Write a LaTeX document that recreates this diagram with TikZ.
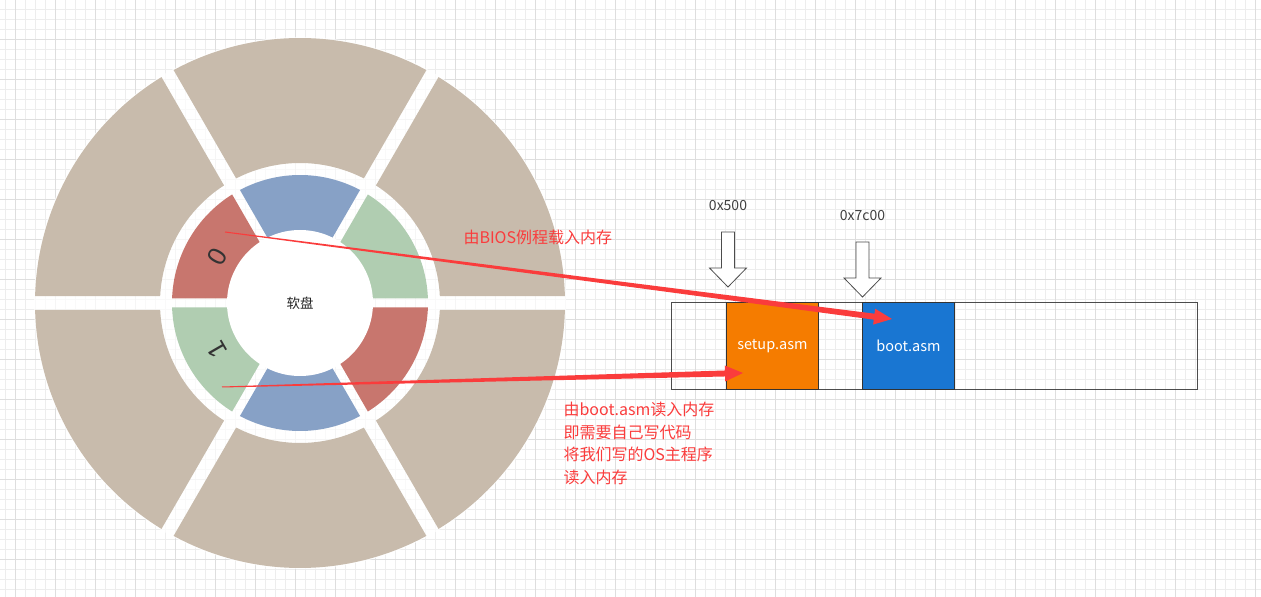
\documentclass[tikz,border=0pt]{standalone}
\usepackage{fontspec}
\usepackage{tikz}
\usetikzlibrary{calc,positioning}
\newfontfamily\cjk{Noto Sans CJK SC}
\newfontfamily\digitfont{Liberation Sans}
\definecolor{gridminor}{RGB}{237,237,237}
\definecolor{gridmajor}{RGB}{222,222,222}
\definecolor{platebeige}{RGB}{200,187,172}
\definecolor{trackred}{RGB}{200,118,110}
\definecolor{trackblue}{RGB}{135,161,198}
\definecolor{trackgreen}{RGB}{176,205,177}
\definecolor{memorange}{RGB}{245,124,0}
\definecolor{memblue}{RGB}{25,118,210}
\definecolor{notered}{RGB}{250,60,60}

\begin{document}
\begin{tikzpicture}[x=1pt,y=1pt,every node/.style={font=\cjk},
 memslot/.style={draw=black!80,line width=.8pt,minimum height=87pt,minimum width=92pt,
   text=white,font=\cjk\fontsize{14.5}{16}\selectfont},
 addr/.style={text=black!75,font=\cjk\fontsize{14}{16}\selectfont},
 note/.style={text=notered,font=\cjk\fontsize{16}{22.5}\selectfont,align=left},
 digit/.style={text=black!80,font=\digitfont\fontsize{26}{28}\selectfont},
 hollow/.style={draw=black!70,fill=white,line width=.8pt},
 redarrow/.style={fill=notered}]
\useasboundingbox (0,0) rectangle (1261,597);
% grid
\foreach \x in {5,15,...,1255}
  {\draw[gridminor,line width=1pt] (\x,0) -- (\x,597);}
\foreach \y in {7,17,...,597}
  {\draw[gridminor,line width=1pt] (0,\y) -- (1261,\y);}
\foreach \x in {15,55,...,1255}
  {\draw[gridmajor,line width=1pt] (\x,0) -- (\x,597);}
\foreach \y in {597,557,...,0}
  {\draw[gridmajor,line width=1pt] (0,\y) -- (1261,\y);}
% floppy disk
\begin{scope}[shift={(300,294)}]
\fill[white,opacity=.7] (0,0) circle[radius=266];
\foreach \a in {0,60,...,300}
  {\fill[platebeige] ({\a+asin(7/265)}:265)
     arc[start angle={\a+asin(7/265)},end angle={\a+60-asin(7/265)},radius=265]
     -- ({\a+60-asin(7/140)}:140)
     arc[start angle={\a+60-asin(7/140)},end angle={\a+asin(7/140)},radius=140] -- cycle;}
\foreach \a/\c in {0/trackgreen,60/trackblue,120/trackred,180/trackgreen,240/trackblue,300/trackred}
  {\fill[\c] ({\a+asin(4.5/128)}:128)
     arc[start angle={\a+asin(4.5/128)},end angle={\a+60-asin(4.5/128)},radius=128]
     -- ({\a+60-asin(4.5/60)}:60)
     arc[start angle={\a+60-asin(4.5/60)},end angle={\a+asin(4.5/60)},radius=60] -- cycle;}
\fill[white] (0,0) circle[radius=73];
\node[text=black!85,font=\cjk\fontsize{13.5}{15}\selectfont] (disk) at (0,0) {软盘};
\node[digit,rotate=60] (track0) at (151:95) {0};
\node[digit,rotate=120] (track1) at (209.5:95) {1};
\end{scope}
% memory
\node[draw=black!70,line width=.8pt,minimum width=526pt,minimum height=87pt,anchor=south west] (mem) at (671,207) {};
\node[memslot,fill=memorange,anchor=south west] (setup) at (726,207) {setup.asm};
\node[memslot,fill=memblue,anchor=south west] (boot) at (862,207) {boot.asm};
% address pointers
\foreach \t/\top/\base/\name in {728/365/329/a500,862.5/355/319/a7c00}
  {\draw[hollow] (\t-6.5,\top) -- (\t+6.5,\top) -- (\t+6.5,\base) -- (\t+18.5,\base)
     -- (\t,\base-19) -- (\t-18.5,\base) -- (\t-6.5,\base) -- cycle;
   \coordinate (\name) at (\t,\top);}
\node[addr,above=18pt of a500] {0x500};
\node[addr,above=18pt of a7c00] {0x7c00};
% load arrows
\coordinate (bios) at (225,365);
\coordinate (biosend) at (892,278);
\coordinate (own) at (222,210);
\coordinate (ownend) at (743,224);
\foreach \s/\t in {bios/biosend,own/ownend}
  {\coordinate (h) at ($(\t)!18pt!(\s)$);
   \fill[redarrow] ($(\s)!.5pt!90:(\t)$) -- ($(h)!3pt!90:(\t)$) -- ($(h)!8pt!90:(\t)$) -- (\t)
     -- ($(h)!8pt!-90:(\t)$) -- ($(h)!3pt!-90:(\t)$) -- ($(\s)!.5pt!-90:(\t)$) -- cycle;}
\node[note,anchor=west] (biosnote) at (460,360) {由BIOS例程载入内存};
\node[note,anchor=north west] (ownnote) at (560,198) {由boot.asm读入内存\\即需要自己写代码\\将我们写的OS主程序\\读入内存};
\end{tikzpicture}
\end{document}
